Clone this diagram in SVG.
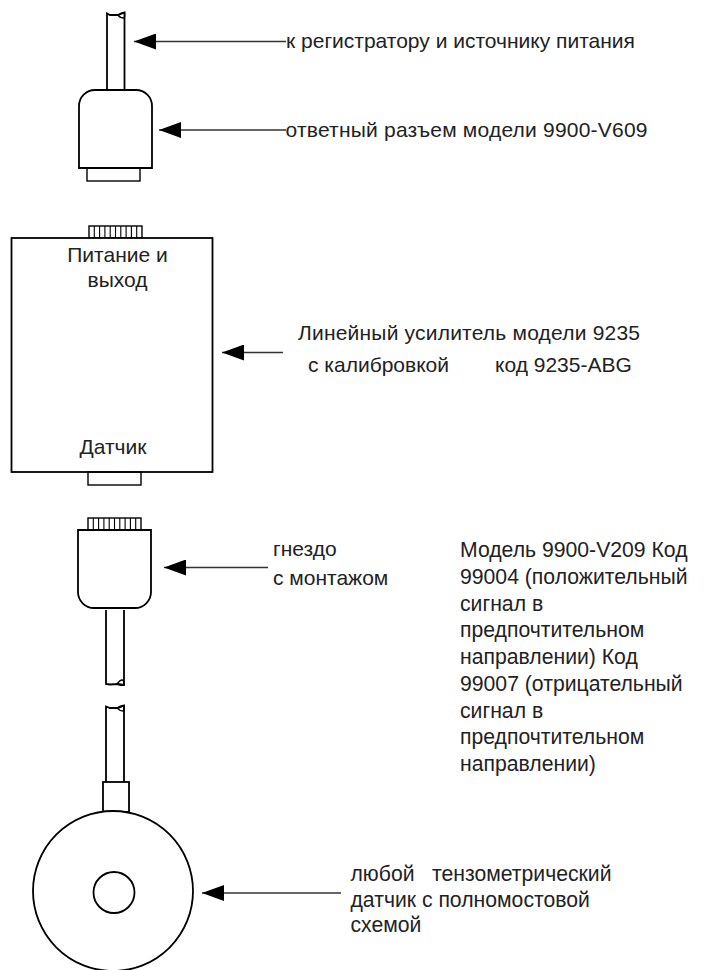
<svg xmlns="http://www.w3.org/2000/svg" width="705" height="970" viewBox="0 0 705 970">
<style>
.s{fill:#fff;stroke:#000;stroke-width:1.8}
.t{fill:none;stroke:#000;stroke-width:1.4}
.f{fill:none;stroke:#000;stroke-width:1.1}
.c{fill:none;stroke:#333;stroke-width:1.3}
text{font-family:"Liberation Sans",Arial,sans-serif;font-size:21px;fill:#222}
.p{font-size:21.2px}
</style>
<defs>
<marker id="a" markerUnits="userSpaceOnUse" markerWidth="24" markerHeight="16" refX="23" refY="8" orient="auto" viewBox="0 0 24 16"><path d="M23 8L1 0V16Z" fill="#000"/></marker>
</defs>
<rect width="705" height="970" fill="#fff"/>
<g id="cable-top">
<path class="s" d="M107 90V13.500L110 15L118 15L124.500 12.500V90"/><path class="t" d="M118 15Q122 12 124.500 12.500Q125 18 124 18Q120 18 118 15Z"/>
</g>
<g id="plug">
<path class="s" d="M79 168V106A16 16 0 0 1 95 90H136A16 16 0 0 1 152 106V168Z"/>
<rect class="t" x="87" y="168" width="53" height="13"/>
</g>
<g id="amplifier">
<rect class="t" x="89" y="226" width="53" height="12"/>
<path class="f" d="M94.300 226v12M99.600 226v12M104.900 226v12M110.200 226v12M115.500 226v12M120.800 226v12M126.100 226v12M131.400 226v12M136.700 226v12"/>
<rect class="s" x="11.500" y="238" width="201" height="234"/>
<rect class="t" x="88" y="472" width="53" height="13"/>
<text x="117.500" y="262" text-anchor="middle">Питание и</text>
<text x="117.500" y="287" text-anchor="middle">выход</text>
<text x="113" y="454" text-anchor="middle">Датчик</text>
</g>
<g id="socket">
<rect class="t" x="88" y="518" width="53" height="12"/>
<path class="f" d="M93.300 518v12M98.600 518v12M103.900 518v12M109.200 518v12M114.500 518v12M119.800 518v12M125.100 518v12M130.400 518v12M135.700 518v12"/>
<path class="s" d="M78 530H151V592A16 16 0 0 1 135 608H94A16 16 0 0 1 78 592Z"/>
<path class="s" d="M106 610V684L110 684.500L118 684L124 685V610"/><path class="t" d="M117 684Q120 680 122 680Q124 680 124 685Q120 686 117 684Z"/>
</g>
<g id="sensor">
<path class="s" d="M106 782V706.500L110 708L118 708L124 705.500V782"/><path class="t" d="M117 708Q121 705 124 705.500Q124.500 711 123 711Q120 711 117 708Z"/>
<rect class="s" x="103" y="782" width="26" height="30"/>
<circle class="s" cx="113" cy="891" r="80"/>
<circle class="s" cx="114" cy="892.500" r="20.500"/>
</g>
<g id="connectors">
<path class="c" d="M286 41.500H134" marker-end="url(#a)"/>
<path class="c" d="M286 130H159" marker-end="url(#a)"/>
<path class="c" d="M283 352.500H222" marker-end="url(#a)"/>
<path class="c" d="M268 567.500H164" marker-end="url(#a)"/>
<path class="c" d="M341 893H202" marker-end="url(#a)"/>
</g>
<g id="labels">
<text x="286" y="48">к регистратору и источнику питания</text>
<text x="285.500" y="137" textLength="362">ответный разъем модели 9900-V609</text>
<text x="298" y="340" textLength="342">Линейный усилитель модели 9235</text>
<text y="372" xml:space="preserve"><tspan x="308">с калибровкой       </tspan><tspan x="495">код 9235-ABG</tspan></text>
<text x="273" y="556">гнездо</text>
<text x="273" y="585">с монтажом</text>
<text class="p" x="460" y="557">Модель 9900-V209 Код</text>
<text class="p" x="460" y="584">99004 (положительный</text>
<text class="p" x="460" y="611">сигнал в</text>
<text class="p" x="460" y="637">предпочтительном</text>
<text class="p" x="460" y="664">направлении) Код</text>
<text class="p" x="460" y="691">99007 (отрицательный</text>
<text class="p" x="460" y="718">сигнал в</text>
<text class="p" x="460" y="744">предпочтительном</text>
<text class="p" x="460" y="771">направлении)</text>
<text class="p" y="881" xml:space="preserve"><tspan x="350.500">любой   </tspan><tspan x="432">тензометрический</tspan></text>
<text class="p" x="350.500" y="907">датчик с полномостовой</text>
<text class="p" x="350.500" y="932">схемой</text>
</g>
</svg>
